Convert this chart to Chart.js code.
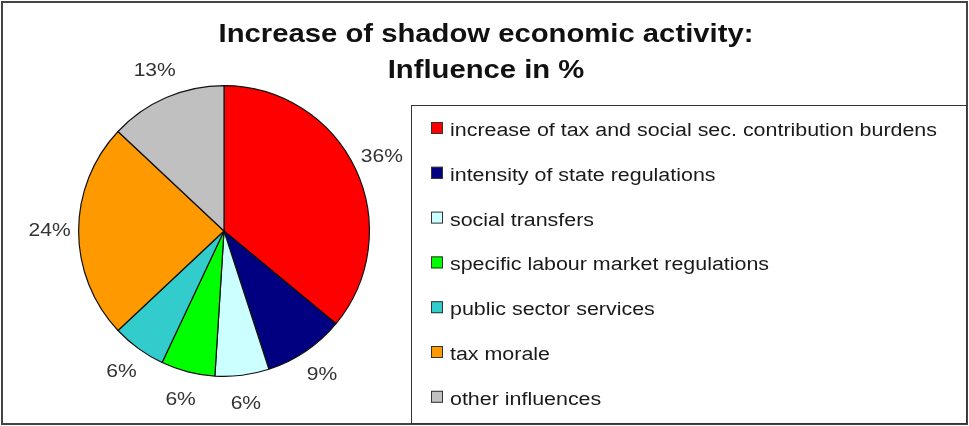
<!DOCTYPE html>
<html>
<head>
<meta charset="utf-8">
<script src="https://cdn.jsdelivr.net/npm/chart.js@4.4.1/dist/chart.umd.min.js"></script>
<style>
  html, body { margin: 0; padding: 0; background: #fff; }
  canvas { display: block; }
</style>
</head>
<body>
<canvas id="c" width="969" height="426"></canvas>
<script>
const titleLines = ['Increase of shadow economic activity:', 'Influence in %'];
const categories = [
  'increase of tax and social sec. contribution burdens',
  'intensity of state regulations',
  'social transfers',
  'specific labour market regulations',
  'public sector services',
  'tax morale',
  'other influences'
];
const shares = [36, 9, 6, 6, 6, 24, 13];
const sliceColors = ['#ff0000', '#000080', '#ccffff', '#00ff00', '#33cccc', '#ff9900', '#c0c0c0'];

// All text in this chart is set slightly wide
const WIDE = 1.17;
const LEGEND_WIDE = 1.19;
const FONT = '"Liberation Sans", Arial, sans-serif';

function wideText(ctx, text, x, y, align, stretch) {
  const k = stretch || WIDE;
  const w = ctx.measureText(text).width * k;
  let left = x;
  if (align === 'center') left = x - w / 2;
  else if (align === 'right') left = x - w;
  ctx.save();
  ctx.translate(left, y);
  ctx.scale(k, 1);
  ctx.textAlign = 'left';
  ctx.fillText(text, 0, 0);
  ctx.restore();
}

const framePlugin = {
  id: 'frame',
  beforeDraw(chart) {
    const ctx = chart.ctx;
    ctx.save();
    ctx.fillStyle = '#ffffff';
    ctx.fillRect(0, 0, chart.width, chart.height);
    ctx.restore();
  },
  afterDraw(chart) {
    const ctx = chart.ctx;
    ctx.save();
    // outer frame
    ctx.strokeStyle = '#444';
    ctx.lineWidth = 2;
    ctx.strokeRect(2, 2, chart.width - 4, chart.height - 4);

    // title
    ctx.fillStyle = '#111';
    ctx.font = 'bold 25px ' + FONT;
    ctx.textBaseline = 'alphabetic';
    wideText(ctx, titleLines[0], 486, 42, 'center');
    wideText(ctx, titleLines[1], 486, 78, 'center');

    // legend box
    ctx.strokeStyle = '#333';
    ctx.lineWidth = 1;
    ctx.strokeRect(411.5, 105.5, chart.width - 414, chart.height - 108);

    ctx.font = '18px ' + FONT;
    categories.forEach((name, i) => {
      const base = 136 + i * 44.8;
      ctx.fillStyle = sliceColors[i];
      ctx.fillRect(431, base - 14, 12, 12);
      ctx.strokeStyle = '#333';
      ctx.strokeRect(431.5, base - 13.5, 11, 11);
      ctx.fillStyle = '#1a1a1a';
      wideText(ctx, name, 450, base, 'left', LEGEND_WIDE);
    });
    ctx.restore();
  },
  afterDatasetsDraw(chart) {
    const ctx = chart.ctx;
    const meta = chart.getDatasetMeta(0);
    const total = shares.reduce((a, b) => a + b, 0);
    ctx.save();
    ctx.fillStyle = '#333';
    ctx.font = '18px ' + FONT;
    ctx.textBaseline = 'middle';
    meta.data.forEach((arc, i) => {
      const p = arc.getProps(['x', 'y', 'startAngle', 'endAngle', 'outerRadius'], true);
      const mid = (p.startAngle + p.endAngle) / 2;
      const d = p.outerRadius + 29;
      const lx = p.x + Math.cos(mid) * d;
      const ly = p.y + Math.sin(mid) * d;
      const pct = Math.round(shares[i] / total * 100) + '%';
      wideText(ctx, pct, lx, ly, 'center');
    });
    ctx.restore();
  }
};

new Chart(document.getElementById('c'), {
  type: 'pie',
  data: {
    labels: categories,
    datasets: [{
      data: shares,
      backgroundColor: sliceColors,
      borderColor: '#111',
      borderWidth: 1.2,
      hoverOffset: 0,
      offset: 0
    }]
  },
  options: {
    responsive: false,
    animation: false,
    events: [],
    layout: { padding: { left: 78, top: 85, right: 599, bottom: 49 } },
    plugins: {
      legend: { display: false },
      title: { display: false },
      tooltip: { enabled: false }
    }
  },
  plugins: [framePlugin]
});
</script>
</body>
</html>
